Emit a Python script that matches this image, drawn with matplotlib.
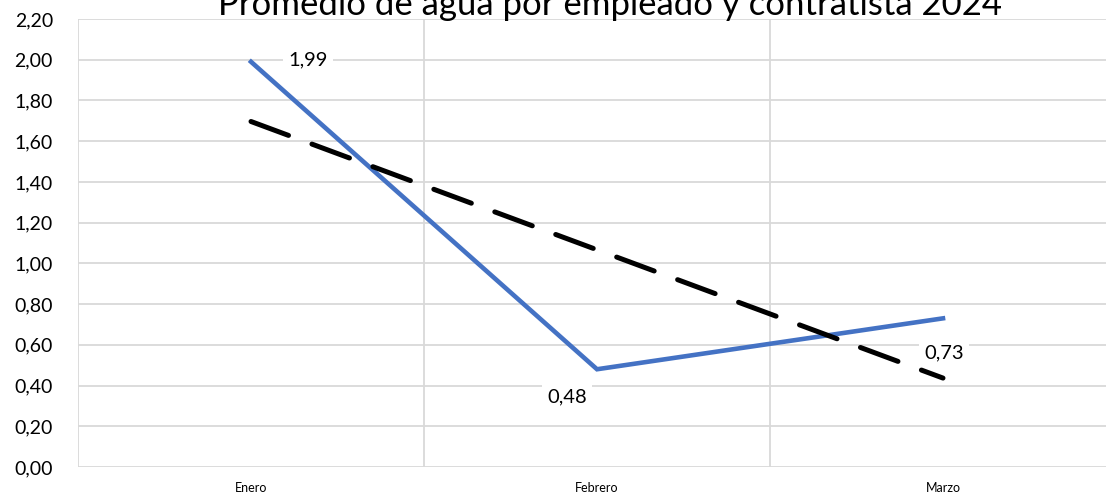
import numpy as np
import matplotlib.pyplot as plt
from matplotlib.ticker import FixedLocator, FuncFormatter

plt.rcParams['font.family'] = ['Lato', 'DejaVu Sans']

meses = ['Enero', 'Febrero', 'Marzo']
promedio = [1.99, 0.48, 0.73]
etiquetas = ['1,99', '0,48', '0,73']
y_ticks = [0.0, 0.2, 0.4, 0.6, 0.8, 1.0, 1.2, 1.4, 1.6, 1.8, 2.0, 2.2]

titulo = 'Promedio de agua por empleado y contratista 2024'

W, H = 1106, 496
fig = plt.figure(figsize=(W / 100, H / 100), dpi=100)
# el area del grafico sigue mas alla del borde derecho (recortada)
ax = fig.add_axes([78 / W, 29 / H, 1038 / W, 448 / H])

x = np.arange(len(meses))
ax.plot(x, promedio, color='#4472C4', lw=3.3, solid_joinstyle='miter', zorder=3)

# linea de tendencia lineal
coef = np.polyfit(x, promedio, 1)
ax.plot(x, np.polyval(coef, x), color='black', lw=3.6,
        dashes=(8, 5), dash_capstyle='round', zorder=4)

# etiquetas de datos con fondo blanco
offsets = [(57, 2), (-30, -28), (1, -35)]
for xi, yi, txt, (dx, dy) in zip(x, promedio, etiquetas, offsets):
    ax.annotate(txt, (xi, yi), xytext=(dx * 0.72, dy * 0.72), textcoords='offset points',
                ha='center', va='center', fontsize=14.5, color='#000000', zorder=5,
                bbox=dict(boxstyle='square,pad=0.25', fc='white', ec='none'))

ax.set_xlim(-0.5, 2.5)
ax.set_ylim(0, 2.2)
ax.set_xticks(x)
ax.set_xticklabels(meses, fontsize=9)
ax.xaxis.set_minor_locator(FixedLocator([-0.5, 0.5, 1.5, 2.5]))
ax.set_yticks(y_ticks)
ax.yaxis.set_major_formatter(FuncFormatter(lambda v, p: f'{v:.2f}'.replace('.', ',')))
ax.tick_params(axis='y', labelsize=14, length=0, pad=18)
ax.tick_params(axis='x', which='both', length=0, pad=11)

ax.grid(axis='y', which='major', color='#D9D9D9', lw=1.3)
ax.grid(axis='x', which='minor', color='#D9D9D9', lw=1.3)
ax.grid(axis='x', which='major', visible=False)
for s in ax.spines.values():
    s.set_visible(False)
ax.set_axisbelow(True)

fig.text(610 / W, 1 - 15 / H, titulo, ha='center', va='baseline', fontsize=25, color='#000000')

fig.savefig('out.png', dpi=100)
